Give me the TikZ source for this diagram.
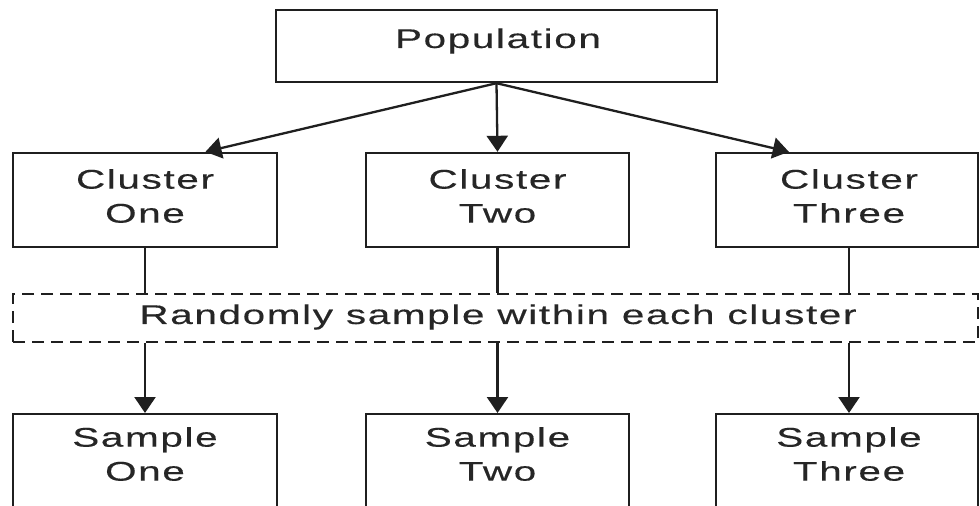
\documentclass[tikz,border=0pt]{standalone}
\usepackage{fontspec}
\setmainfont{Liberation Sans}[FakeStretch=1.5,LetterSpace=6,FakeBold=0.3]
\usetikzlibrary{arrows.meta,calc}
\begin{document}
\begin{tikzpicture}[x=1pt,y=-1pt,
  box/.style={draw=black!88,line width=2.4pt,rectangle,inner sep=0pt},
  lbl/.style={align=center,inner sep=0pt,font=\fontsize{27}{34}\selectfont,text=black!85},
  conn/.style={draw=black!88,line width=2.3pt},
  arr/.style={conn,-{Triangle[width=21pt,length=16pt]}}]
\useasboundingbox (0,0) rectangle (980,506);
\fill[white] (0,0) rectangle (980,506);
% top
\node[box,minimum width=441pt,minimum height=72pt] (pop) at (496.5,46) {};
\node[lbl] (popt) at (498,41) {Population};
% clusters
\node[box,minimum width=264pt,minimum height=94pt] (c1) at (145,200) {};
\node[box,minimum width=263pt,minimum height=94pt] (c2) at (497.5,200) {};
\node[box,minimum width=262pt,minimum height=94pt] (c3) at (847,200) {};
\node[lbl] (c1t) at (145,196) {Cluster\\One};
\node[lbl] (c2t) at (497.5,196) {Cluster\\Two};
\node[lbl] (c3t) at (849,196) {Cluster\\Three};
% dashed
\node[box,dash pattern=on 12pt off 7pt,line width=1.8pt,minimum width=965pt,minimum height=48pt] (rnd) at (495.5,318) {};
\node[lbl] (rndt) at (498,317) {Randomly sample within each cluster};
% samples
\node[box,minimum width=264pt,minimum height=100pt,anchor=north] (s1) at (145,413) {};
\node[box,minimum width=263pt,minimum height=100pt,anchor=north] (s2) at (497.5,413) {};
\node[box,minimum width=262pt,minimum height=100pt,anchor=north] (s3) at (847,413) {};
\node[lbl] (s1t) at (145,454) {Sample\\One};
\node[lbl] (s2t) at (497.5,454) {Sample\\Two};
\node[lbl] (s3t) at (849,454) {Sample\\Three};
% connectors
\draw[arr] (pop.south) -- ($(c1.north west)!0.727!(c1.north east)$);
\draw[arr] (pop.south) -- (c2.north);
\draw[arr] (pop.south) -- ($(c3.north west)!0.28!(c3.north east)$);
\draw[conn] (c1.south) -- (c1.south |- rnd.north);
\draw[conn] (c2.south) -- (c2.south |- rnd.north);
\draw[conn] ([xshift=2pt]c3.south) -- ([xshift=2pt]c3.south |- rnd.north);
\draw[arr] (s1.north |- rnd.south) -- (s1.north);
\draw[arr] (s2.north |- rnd.south) -- (s2.north);
\draw[arr] ([xshift=2pt]s3.north |- rnd.south) -- ([xshift=2pt]s3.north);
\end{tikzpicture}
\end{document}
